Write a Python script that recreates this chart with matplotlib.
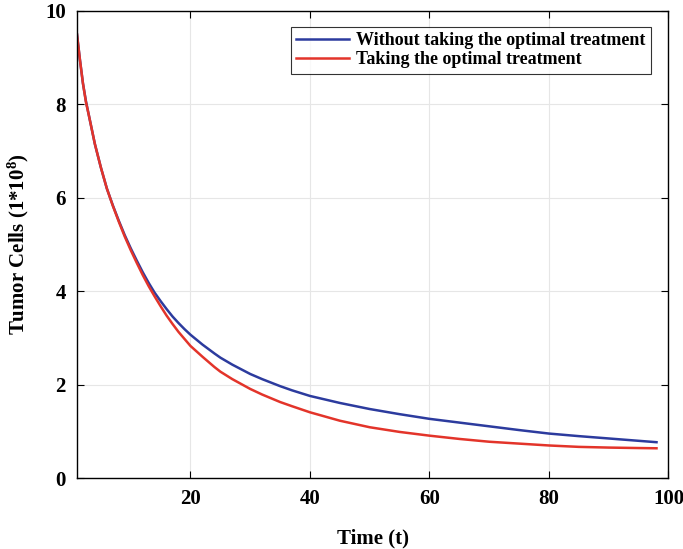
import numpy as np
import matplotlib
matplotlib.use('Agg')
import matplotlib.pyplot as plt

# values
t = [1, 1.5, 2, 2.5, 3, 4, 5, 6, 7, 8, 9, 10, 11, 12, 13, 14, 15, 16, 17, 18,
     19, 20, 22, 24, 25, 27, 30, 32, 35, 37, 40, 45, 50, 55, 60, 65, 70, 75,
     80, 85, 90, 95, 98]
without_treatment = [9.50, 8.95, 8.45, 8.07, 7.76, 7.15, 6.65, 6.20, 5.84, 5.51,
                     5.20, 4.92, 4.66, 4.41, 4.18, 3.97, 3.79, 3.62, 3.46, 3.32,
                     3.19, 3.07, 2.86, 2.67, 2.58, 2.43, 2.23, 2.12, 1.97, 1.88,
                     1.76, 1.61, 1.48, 1.37, 1.27, 1.19, 1.11, 1.03, 0.955,
                     0.90, 0.85, 0.80, 0.77]
with_treatment = [9.50, 8.95, 8.45, 8.05, 7.76, 7.15, 6.65, 6.20, 5.83, 5.49,
                  5.17, 4.88, 4.61, 4.35, 4.11, 3.89, 3.68, 3.48, 3.30, 3.13,
                  2.98, 2.83, 2.60, 2.38, 2.28, 2.12, 1.91, 1.79, 1.63, 1.54,
                  1.41, 1.23, 1.09, 0.99, 0.91, 0.84, 0.78, 0.74, 0.70,
                  0.67, 0.655, 0.645, 0.64]
labels = ['Without taking the optimal treatment', 'Taking the optimal treatment']

plt.rcParams['font.family'] = ['Liberation Serif', 'DejaVu Serif']
plt.rcParams['font.weight'] = 'bold'
plt.rcParams['mathtext.fontset'] = 'custom'
plt.rcParams['mathtext.rm'] = 'Liberation Serif:bold'
plt.rcParams['mathtext.bf'] = 'Liberation Serif:bold'
plt.rcParams['mathtext.it'] = 'Liberation Serif:bold'

fig = plt.figure(figsize=(6.83, 5.49), dpi=100)
ax = fig.add_axes([0.1127, 0.129, 0.866, 0.851])

ax.plot(t, without_treatment, color='#2c3b9e', lw=1.8, label=labels[0])
ax.plot(t, with_treatment, color='#e3342a', lw=1.8, label=labels[1])

ax.set_xlim(1, 100)
ax.set_ylim(0, 10)
ax.set_xticks([20, 40, 60, 80, 100])
ax.set_yticks([0, 2, 4, 6, 8, 10])
ax.grid(True, color='#e6e6e6', lw=0.8)
ax.set_axisbelow(True)
ax.tick_params(direction='in', top=True, right=True, length=5, width=0.8,
               labelsize=15, pad=8)
for lab in ax.get_xticklabels() + ax.get_yticklabels():
    lab.set_fontweight('bold')
for s in ax.spines.values():
    s.set_linewidth(1.0)

ax.set_xlabel('Time (t)', fontsize=15, fontweight='bold', labelpad=14)
ax.set_ylabel(r'Tumor Cells (1*10$^{8}$)', fontsize=15, fontweight='bold',
              labelpad=10)

leg = ax.legend(loc='upper right', fontsize=13, handlelength=2.9,
                frameon=True, fancybox=False, borderpad=0.3,
                labelspacing=0.1, handletextpad=0.4,
                bbox_to_anchor=(0.985, 0.985))
leg.get_frame().set_edgecolor('black')
leg.get_frame().set_linewidth(0.8)
for txt in leg.get_texts():
    txt.set_fontweight('bold')

fig.savefig('out.png', dpi=100)
